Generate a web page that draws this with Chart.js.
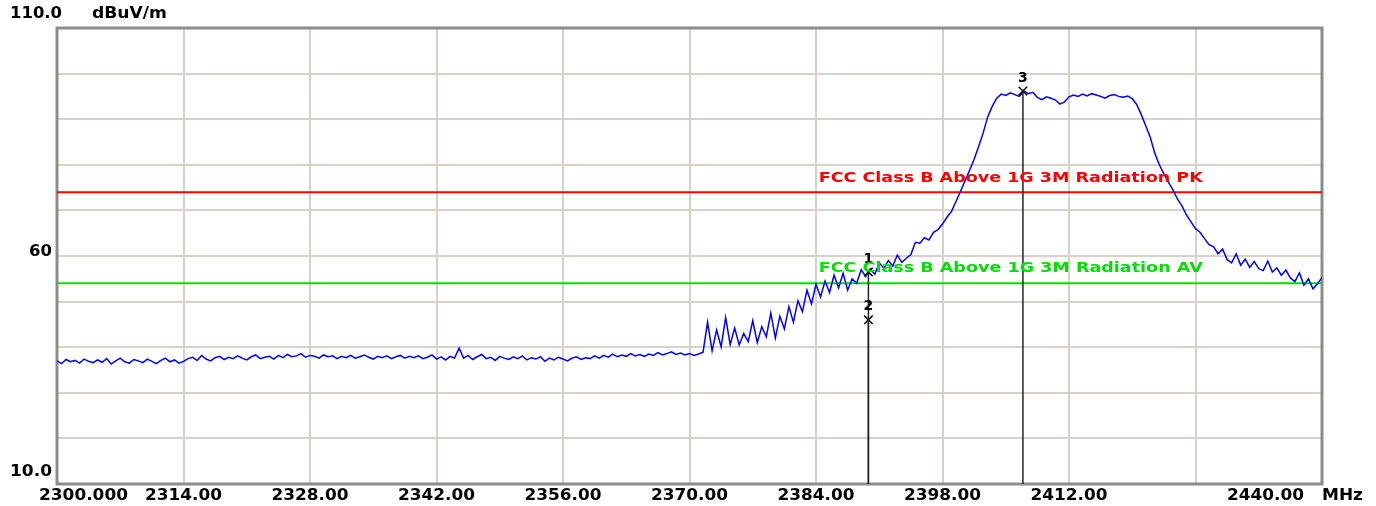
<!DOCTYPE html>
<html>
<head>
<meta charset="utf-8">
<script src="https://cdn.jsdelivr.net/npm/chart.js@4.4.1/dist/chart.umd.min.js"></script>
<style>
html, body { margin: 0; padding: 0; background: #fff; }
</style>
</head>
<body>
<canvas id="spectrum" width="1376" height="506"></canvas>
<script>
// sweep 2300 - 2440 MHz, one reading every 0.5 MHz
var startMHz = 2300;
var stepMHz = 0.5;
var traceLevel = [
    37.0, 36.4, 37.3, 36.8, 37.1, 36.5, 37.4, 36.9, 36.6, 37.2,
    36.7, 37.5, 36.3, 37.0, 37.6, 36.8, 36.5, 37.3, 37.0, 36.6,
    37.4, 36.9, 36.4, 37.1, 37.6, 36.8, 37.2, 36.5, 36.9, 37.5,
    37.8, 37.1, 38.2, 37.4, 37.0, 37.7, 38.0, 37.3, 37.8, 37.5,
    38.1, 37.6, 37.2, 37.9, 38.3, 37.5, 37.8, 38.0, 37.4, 38.2,
    37.7, 38.4, 37.9, 38.1, 38.6, 37.8, 38.2, 38.0, 37.6, 38.3,
    37.9, 38.1, 37.5, 38.0, 37.7, 38.2, 37.6, 37.9, 38.3, 37.8,
    37.4, 38.0, 37.7, 38.1, 37.5, 37.9, 38.2, 37.6, 38.0, 37.7,
    38.1, 37.5, 37.8, 38.3, 37.4, 37.9, 37.2, 38.0, 37.6, 39.8,
    37.6, 38.2, 37.3, 37.9, 38.4, 37.5, 37.8, 37.1, 38.0, 37.6,
    37.3, 37.9, 37.5, 38.1, 37.2, 37.7, 37.4, 37.9, 36.9, 37.6,
    37.2, 37.8, 37.4, 37.0, 37.6, 37.9, 37.3, 37.7, 37.5, 38.1,
    37.6, 38.2, 37.8, 38.5, 37.9, 38.3, 38.0, 38.6, 38.1, 38.4,
    38.0, 38.5, 38.2, 38.8, 38.3, 38.6, 39.0, 38.4, 38.7, 38.3,
    38.6, 38.2, 38.5, 38.9, 45.5, 39.2, 43.8, 40.1, 46.5, 40.6,
    44.2, 40.5, 43.0, 41.2, 45.8, 41.0, 44.5, 42.3, 47.5, 42.0,
    46.8, 44.0, 48.9, 45.5, 50.2, 47.8, 52.5, 49.5, 53.8, 51.0,
    54.5, 52.0, 55.8, 53.0, 56.2, 52.5, 55.0, 54.0, 57.0, 55.5,
    57.2, 56.0, 58.5, 57.3, 59.0, 57.8, 60.2, 58.6, 59.5, 60.3,
    63.0, 62.8, 64.0, 63.5, 65.2, 65.8, 67.0, 68.5, 69.8, 72.0,
    74.2, 76.5, 78.8, 81.2, 84.0, 87.0, 90.5, 92.8, 94.6, 95.5,
    95.2, 95.8, 95.4, 95.0, 96.2, 95.6, 95.9, 94.8, 94.3, 94.9,
    94.6, 94.2, 93.3, 93.8, 94.9, 95.3, 95.0, 95.5, 95.1, 95.6,
    95.3, 95.0, 94.6, 95.2, 95.4, 95.0, 94.8, 95.1, 94.5, 93.2,
    91.0, 88.5, 86.0, 82.5, 80.0, 78.0, 76.2, 74.5, 72.5, 71.0,
    69.0, 67.5, 66.0, 65.2, 63.8, 62.5, 62.0, 60.5, 61.5, 59.2,
    58.5, 60.5, 58.0, 59.3, 57.5, 58.8, 57.2, 56.8, 58.9, 56.5,
    57.4, 55.8, 56.9, 55.2, 54.4, 56.3, 53.6, 55.0, 52.8, 53.9,
    55.3
];

var limitPK = 74;
var limitAV = 54;
var limitPKName = 'FCC Class B Above 1G 3M Radiation PK';
var limitAVName = 'FCC Class B Above 1G 3M Radiation AV';

var markerMHz = [2389.8, 2389.8, 2406.9];
var markerLevel = [56.5, 46.0, 96.2];
var markerNames = ['1', '2', '3'];

var xTickValues = [2300, 2314, 2328, 2342, 2356, 2370, 2384, 2398, 2412, 2440];
var xTickLabels = ['2300.000', '2314.00', '2328.00', '2342.00', '2356.00', '2370.00', '2384.00', '2398.00', '2412.00', '2440.00'];
var yTickValues = [110, 60, 10];
var yTickLabels = ['110.0', '60', '10.0'];

var tracePoints = traceLevel.map(function (v, i) {
    return { x: startMHz + i * stepMHz, y: v };
});
var markerPoints = markerMHz.map(function (f, i) {
    return { x: f, y: markerLevel[i] };
});

// draw text stretched sideways to a given width (the original uses a wide bitmap font)
function fitText(ctx, text, x, y, width) {
    var w = ctx.measureText(text).width;
    ctx.save();
    ctx.translate(x, y);
    ctx.scale(width / w, 1);
    ctx.textAlign = 'left';
    ctx.fillText(text, 0, 0);
    ctx.restore();
}

var frame = {
    id: 'frame',
    beforeDatasetsDraw: function (chart) {
        var ctx = chart.ctx, a = chart.chartArea;
        ctx.save();
        ctx.strokeStyle = '#8c8c8c';
        ctx.lineWidth = 3;
        ctx.strokeRect(a.left, a.top, a.right - a.left, a.bottom - a.top);
        ctx.restore();
    },
    afterDatasetsDraw: function (chart) {
        var ctx = chart.ctx, a = chart.chartArea;
        var xs = chart.scales.x, ys = chart.scales.y;
        ctx.save();
        ctx.textBaseline = 'middle';

        // marker lines and numbers
        ctx.strokeStyle = '#222';
        ctx.lineWidth = 1.5;
        ctx.fillStyle = '#000';
        ctx.font = 'bold 14px "DejaVu Sans"';
        for (var i = 0; i < markerMHz.length; i++) {
            var mx = xs.getPixelForValue(markerMHz[i]);
            var my = ys.getPixelForValue(markerLevel[i]);
            ctx.beginPath();
            ctx.moveTo(mx, my);
            ctx.lineTo(mx, a.bottom);
            ctx.stroke();
            ctx.textAlign = 'center';
            ctx.fillText(markerNames[i], mx, my - 13);
        }

        // limit line names
        ctx.font = 'bold 14px "DejaVu Sans"';
        var lx = xs.getPixelForValue(2384.3);
        ctx.fillStyle = '#ff0000';
        fitText(ctx, limitPKName, lx, ys.getPixelForValue(limitPK) - 14, 384);
        ctx.fillStyle = '#00e000';
        fitText(ctx, limitAVName, lx, ys.getPixelForValue(limitAV) - 15, 384);
        ctx.restore();
    },
    afterDraw: function (chart) {
        var ctx = chart.ctx, a = chart.chartArea;
        var xs = chart.scales.x, ys = chart.scales.y;
        ctx.save();
        ctx.fillStyle = '#000';
        ctx.textBaseline = 'middle';
        ctx.font = 'bold 15px "DejaVu Sans"';
        var ty = a.bottom + 12;
        for (var i = 0; i < xTickValues.length; i++) {
            var px = xs.getPixelForValue(xTickValues[i]);
            var t = xTickLabels[i];
            var w = t.length === 8 ? 89 : 77;
            var left = px - w / 2;
            if (i === 0) left = a.left - 18;
            if (i === xTickValues.length - 1) left = px - 95;
            fitText(ctx, t, left, ty, w);
        }
        fitText(ctx, 'MHz', a.right, ty, 41);

        var yOff = [-14, -4, -12];
        var yW = [52, 23, 42];
        for (var j = 0; j < yTickValues.length; j++) {
            var py = ys.getPixelForValue(yTickValues[j]) + yOff[j];
            var right = j === 0 ? 62 : 52;
            fitText(ctx, yTickLabels[j], right - yW[j], py, yW[j]);
        }
        fitText(ctx, 'dBuV/m', 92, ys.getPixelForValue(110) - 14, 75);
        ctx.restore();
    }
};

var grid = { color: '#d6d2ca', lineWidth: 2, drawTicks: false };

var ctx = document.getElementById('spectrum').getContext('2d');
var myChart = new Chart(ctx, {
    type: 'line',
    data: {
        datasets: [{
            data: tracePoints,
            borderColor: '#0000ff',
            borderWidth: 1.5,
            pointRadius: 0,
            tension: 0,
            order: 1
        }, {
            data: [{ x: 2300, y: limitPK }, { x: 2440, y: limitPK }],
            borderColor: '#ff0000',
            borderWidth: 2,
            pointRadius: 0,
            order: 2
        }, {
            data: [{ x: 2300, y: limitAV }, { x: 2440, y: limitAV }],
            borderColor: '#00e000',
            borderWidth: 2,
            pointRadius: 0,
            order: 2
        }, {
            type: 'scatter',
            data: markerPoints,
            pointStyle: 'crossRot',
            pointRadius: 6,
            borderColor: '#000',
            borderWidth: 1.5,
            order: 0
        }]
    },
    options: {
        responsive: false,
        animation: false,
        layout: {
            padding: { left: 57, top: 28, right: 54, bottom: 22 }
        },
        plugins: {
            legend: { display: false },
            tooltip: { enabled: false }
        },
        scales: {
            x: {
                type: 'linear',
                min: 2300,
                max: 2440,
                ticks: { display: false, stepSize: 14 },
                grid: grid,
                border: { display: false }
            },
            y: {
                min: 10,
                max: 110,
                ticks: { display: false, stepSize: 10 },
                grid: grid,
                border: { display: false }
            }
        }
    },
    plugins: [frame]
});
</script>
</body>
</html>
